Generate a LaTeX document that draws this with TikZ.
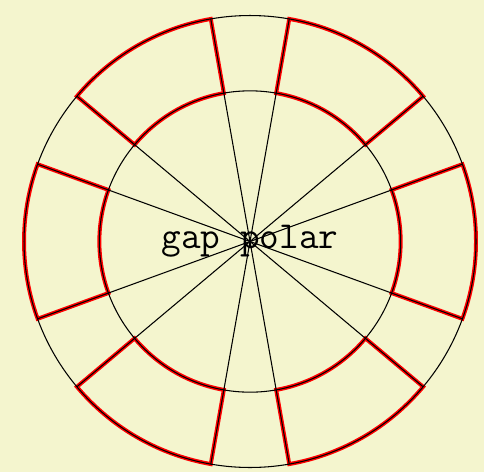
\documentclass[tikz,border=0pt]{standalone}
\definecolor{bgbeige}{RGB}{244,245,206}
\tikzset{
  sectorline/.style={red, line width=1.5pt, line join=miter},
  thinline/.style={black, line width=0.4pt},
  labeltext/.style={font=\ttfamily\Large, inner sep=0pt}
}
\begin{document}
\begin{tikzpicture}
\fill[bgbeige] (-3.319,-3.060) rectangle (3.106,3.206);
\useasboundingbox (-3.319,-3.060) rectangle (3.106,3.206);
\foreach \a in {-20,40,100,160,220,280} {
  \draw[sectorline] (\a:2) -- (\a:3) arc[start angle=\a, end angle=\a+40, radius=3]
    -- (\a+40:2) arc[start angle=\a+40, end angle=\a, radius=2] -- cycle;
}
\coordinate (c) at (0,0);
\draw[thinline] (c) circle[radius=2];
\draw[thinline] (c) circle[radius=3];
\foreach \a in {20,40,80,100,140,160,200,220,260,280,320,340} {
  \coordinate (e\a) at (\a:3);
  \draw[thinline] (c) -- (e\a);
}
\node[labeltext] (lbl) at (c) {gap polar};
\end{tikzpicture}
\end{document}
